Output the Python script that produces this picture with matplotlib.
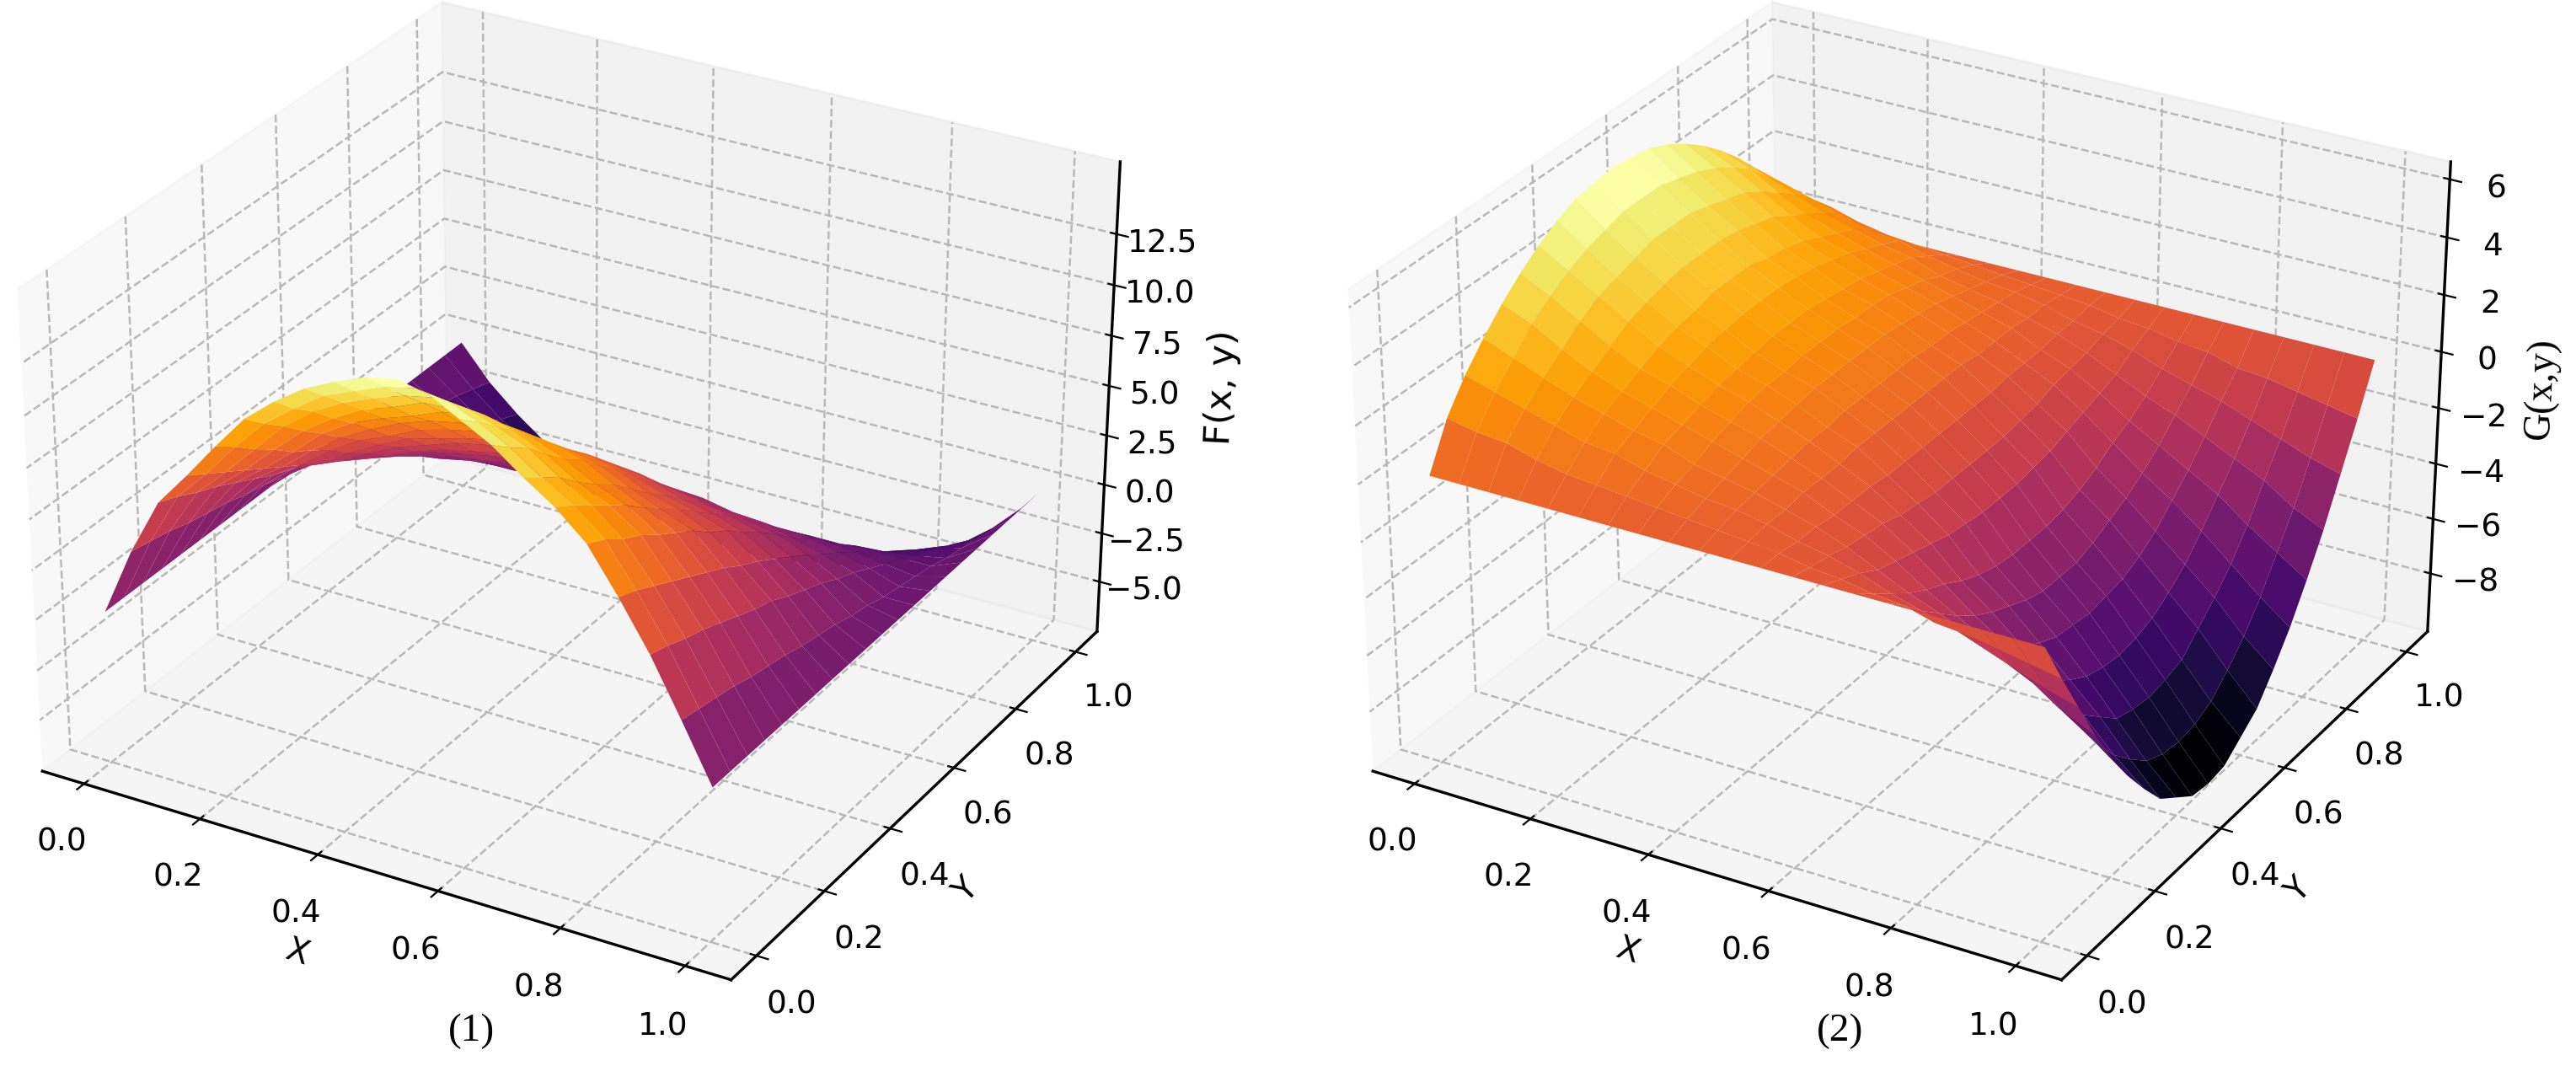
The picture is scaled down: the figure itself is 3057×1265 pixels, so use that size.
import numpy as np
import matplotlib
matplotlib.use("Agg")
import matplotlib.pyplot as plt

# values, x and y run 0..1 in steps of 0.05
grid_x = np.linspace(0, 1, 21)
grid_y = np.linspace(0, 1, 21)

f_zticks = [-5.0, -2.5, 0.0, 2.5, 5.0, 7.5, 10.0, 12.5]
g_zticks = [-8, -6, -4, -2, 0, 2, 4, 6]

# F(x, y): one list per x = 0 .. 1, each running y = 0 .. 1
f_by_x = [
    [0] * 21,
    [3.4, 3.2, 3.0, 2.7, 2.5, 2.3, 2.0, 1.8, 1.5, 1.3, 1.0, 0.7, 0.4, 0.2, 0.0, -0.3, -0.6, -0.9, -1.1, -1.4, -1.7],
    [6.2, 5.8, 5.3, 4.9, 4.4, 3.9, 3.4, 3.0, 2.5, 2.1, 1.6, 1.2, 0.7, 0.3, -0.2, -0.8, -1.2, -1.7, -2.1, -2.6, -3.0],
    [7.9, 7.3, 6.7, 6.1, 5.5, 4.9, 4.3, 3.7, 3.1, 2.5, 1.9, 1.3, 0.7, 0.1, -0.5, -1.1, -1.7, -2.3, -2.9, -3.5, -4.1],
    [9.7, 9.0, 8.2, 7.5, 6.7, 6.1, 5.4, 4.6, 3.9, 3.1, 2.4, 1.7, 0.9, 0.2, -0.6, -1.2, -1.9, -2.7, -3.4, -4.2, -4.9],
    [11.4, 10.5, 9.7, 8.8, 8.0, 7.1, 6.3, 5.4, 4.6, 3.7, 3.0, 2.1, 1.2, 0.4, -0.5, -1.3, -2.2, -3.0, -3.9, -4.7, -5.6],
    [12.6, 11.6, 10.8, 9.8, 8.9, 7.9, 6.9, 6.1, 5.1, 4.2, 3.3, 2.3, 1.4, 0.4, -0.4, -1.4, -2.4, -3.3, -4.3, -5.1, -6.1],
    [13.6, 12.6, 11.6, 10.6, 9.5, 8.6, 7.6, 6.5, 5.6, 4.5, 3.6, 2.6, 1.5, 0.6, -0.5, -1.5, -2.4, -3.5, -4.5, -5.5, -6.5],
    [14.3, 13.2, 12.2, 11.1, 10.0, 9.1, 8.0, 6.9, 5.9, 4.8, 3.8, 2.7, 1.6, 0.6, -0.5, -1.6, -2.5, -3.6, -4.7, -5.7, -6.8],
    [14.9, 13.8, 12.7, 11.7, 10.6, 9.4, 8.3, 7.2, 6.2, 5.1, 4.0, 2.8, 1.7, 0.7, -0.4, -1.5, -2.6, -3.8, -4.8, -5.9, -7.0],
    [15.2, 14.1, 13.0, 11.8, 10.8, 9.7, 8.6, 7.4, 6.3, 5.2, 4.1, 2.9, 1.8, 0.7, -0.5, -1.5, -2.6, -3.7, -4.9, -6.0, -7.1],
    [14.9, 13.9, 12.9, 11.9, 10.8, 9.8, 8.7, 7.7, 6.6, 5.5, 4.4, 3.4, 2.3, 1.2, 0.0, -1.1, -2.3, -3.4, -4.6, -5.8, -7.0],
    [14.1, 13.3, 12.4, 11.5, 10.5, 9.6, 8.6, 7.7, 6.7, 5.7, 4.7, 3.6, 2.6, 1.5, 0.3, -0.9, -2.0, -3.2, -4.3, -5.6, -6.8],
    [13.3, 12.5, 11.8, 10.8, 9.9, 9.2, 8.2, 7.3, 6.3, 5.4, 4.4, 3.4, 2.5, 1.3, 0.2, -0.9, -1.9, -3.1, -4.2, -5.3, -6.5],
    [12.2, 11.5, 10.8, 9.9, 9.1, 8.4, 7.5, 6.6, 5.8, 4.9, 4.1, 3.1, 2.2, 1.2, 0.2, -0.8, -1.9, -2.9, -4.0, -5.1, -6.2],
    [11.2, 10.6, 9.9, 9.2, 8.5, 7.7, 6.9, 6.2, 5.4, 4.6, 3.8, 2.9, 2.1, 1.1, 0.2, -0.7, -1.8, -2.7, -3.6, -4.7, -5.7],
    [9.9, 9.4, 8.7, 8.2, 7.5, 6.9, 6.3, 5.5, 4.9, 4.1, 3.4, 2.6, 1.7, 1.0, 0.1, -0.7, -1.5, -2.5, -3.2, -4.1, -5.0],
    [7.8, 7.4, 6.9, 6.4, 5.9, 5.4, 4.9, 4.3, 3.8, 3.2, 2.6, 2.0, 1.3, 0.7, 0.0, -0.6, -1.4, -2.1, -2.7, -3.4, -4.2],
    [5.5, 5.2, 4.8, 4.5, 4.1, 3.7, 3.3, 3.0, 2.5, 2.1, 1.7, 1.2, 0.8, 0.3, -0.2, -0.6, -1.2, -1.6, -2.1, -2.7, -3.2],
    [2.8, 2.6, 2.4, 2.2, 1.9, 1.7, 1.5, 1.2, 1.0, 0.8, 0.5, 0.3, 0.0, -0.2, -0.4, -0.6, -0.9, -1.1, -1.3, -1.5, -1.8],
    [0] * 21,
]

# G(x, y): one row per y = 0 .. 0.5 (the back half mirrors the front), columns x = 0 .. 1
g_front_half = [
    [0] * 21,
    [1.5, 1.3, 1.2, 0.9, 0.7, 0.6, 0.5, 0.4, 0.3, 0.2, 0.1, 0, -0.2, -0.3, -0.5, -0.6, -0.9, -1.0, -1.2, -1.4, -1.6],
    [2.5, 2.2, 1.9, 1.6, 1.3, 1.2, 0.9, 0.7, 0.5, 0.4, 0.2, -0.1, -0.3, -0.6, -1.0, -1.3, -1.6, -2.0, -2.4, -2.8, -3.1],
    [3.3, 2.9, 2.5, 2.1, 1.8, 1.5, 1.3, 0.9, 0.7, 0.5, 0.2, -0.1, -0.5, -1.0, -1.5, -1.9, -2.4, -2.9, -3.4, -4.1, -4.6],
    [4.0, 3.6, 3.0, 2.5, 2.1, 1.8, 1.5, 1.2, 0.9, 0.6, 0.3, -0.2, -0.6, -1.2, -1.9, -2.5, -3.1, -3.7, -4.5, -5.2, -5.9],
    [4.6, 4.1, 3.5, 2.9, 2.4, 2.1, 1.7, 1.4, 1.1, 0.7, 0.3, -0.2, -0.7, -1.4, -2.2, -3.0, -3.7, -4.5, -5.4, -6.3, -7.1],
    [5.1, 4.5, 3.9, 3.3, 2.7, 2.3, 1.9, 1.6, 1.2, 0.8, 0.3, -0.2, -0.9, -1.6, -2.6, -3.4, -4.3, -5.2, -6.1, -7.2, -8.1],
    [5.5, 4.8, 4.1, 3.5, 2.9, 2.5, 2.0, 1.7, 1.3, 0.8, 0.4, -0.3, -1.0, -1.8, -2.9, -3.7, -4.7, -5.7, -6.7, -7.9, -9.0],
    [5.8, 5.0, 4.3, 3.7, 3.0, 2.6, 2.1, 1.7, 1.4, 0.9, 0.4, -0.3, -1.1, -1.9, -3.1, -4.0, -5.0, -6.1, -7.3, -8.5, -9.5],
    [5.9, 5.2, 4.5, 3.8, 3.2, 2.7, 2.2, 1.8, 1.4, 0.9, 0.4, -0.3, -1.1, -2.0, -3.2, -4.2, -5.1, -6.3, -7.5, -8.8, -10.0],
    [6.0, 5.2, 4.5, 3.8, 3.2, 2.7, 2.2, 1.8, 1.4, 0.9, 0.4, -0.3, -1.1, -2.0, -3.2, -4.2, -5.2, -6.4, -7.6, -8.9, -10.1],
]

F = np.array(f_by_x).T
g_half = np.array(g_front_half)
G = np.vstack([g_half, g_half[-2::-1]])

plt.rcParams["font.family"] = ["DejaVu Sans"]
plt.rcParams["font.size"] = 13.5
plt.rcParams["grid.linestyle"] = "--"
plt.rcParams["grid.color"] = "#b8b8b8"
plt.rcParams["grid.linewidth"] = 0.9
plt.rcParams["axes.linewidth"] = 1.2

fig = plt.figure(figsize=(15.285, 6.325), dpi=200)
AXES_W = 0.476
AXES_H = 1.067


def draw_panel(left, bottom, Z):
    ax = fig.add_axes([left, bottom, AXES_W, AXES_H], projection="3d")
    # the reference is a little squashed vertically, so let the 3d box fill a non square area
    ax.apply_aspect = lambda position=None: None
    X, Y = np.meshgrid(grid_x, grid_y)
    ax.plot_surface(X, Y, Z, cmap="inferno", rstride=1, cstride=1, linewidth=0, antialiased=True)
    ax.tick_params(axis="both", labelsize=13.5)
    ax.tick_params(axis="x", pad=6)
    ax.tick_params(axis="y", pad=5)
    return ax


ax1 = draw_panel(-0.0195, 0.0135, F)
ax1.set_zlim(-7.6, 16.0)
ax1.set_zticks(f_zticks)
ax1.set_zlabel("F(x, y)", labelpad=8, fontsize=15.5)

ax2 = draw_panel(0.497, 0.0135, G)
ax2.set_zlim(-10.15, 6.6)
ax2.set_zticks(g_zticks)
ax2.set_zlabel("G(x,y)", labelpad=5, family="Liberation Serif", fontsize=16.5)

# axis names sit closer to the ticks than the 3d axes would put them
fig.text(181 / 1568, 1 - 580 / 649, "X", fontsize=14, rotation=-18, ha="center", va="center")
fig.text(588 / 1568, 1 - 542 / 649, "Y", fontsize=14, rotation=46, ha="center", va="center")
fig.text(991 / 1568, 1 - 579 / 649, "X", fontsize=14, rotation=-18, ha="center", va="center")
fig.text(1399 / 1568, 1 - 542 / 649, "Y", fontsize=14, rotation=46, ha="center", va="center")

fig.text(287 / 1568, 1 - 628 / 649, "(1)", family="Liberation Serif", fontsize=17, ha="center", va="center")
fig.text(1120 / 1568, 1 - 628 / 649, "(2)", family="Liberation Serif", fontsize=17, ha="center", va="center")

fig.savefig("out.png", dpi=200)
